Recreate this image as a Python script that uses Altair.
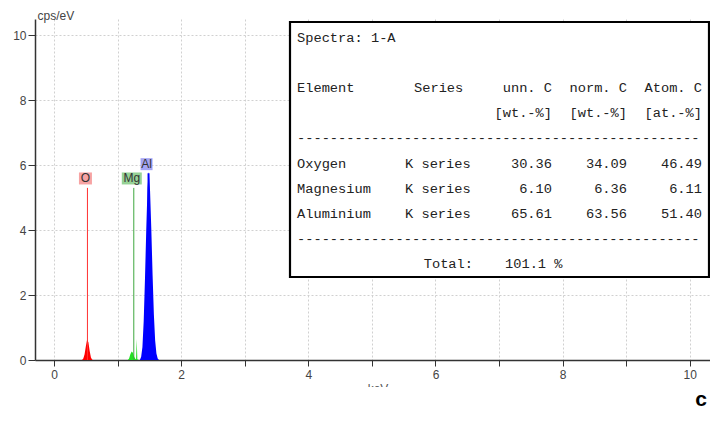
import altair as alt
import pandas as pd
import numpy as np

# ---------------- spectrum data ----------------
o_kev = [0.44, 0.46, 0.48, 0.50, 0.52, 0.54, 0.56, 0.58, 0.60, 0.62]
o_cps = [0.0, 0.05, 0.18, 0.42, 0.63, 0.55, 0.28, 0.08, 0.01, 0.0]

mg_kev = [1.16, 1.18, 1.20, 1.22, 1.24, 1.26, 1.28, 1.29, 1.30, 1.31, 1.33]
mg_cps = [0.0, 0.05, 0.18, 0.26, 0.22, 0.10, 0.03, 0.02, 0.65, 0.02, 0.0]

al_kev = [1.35, 1.37, 1.39, 1.41, 1.43, 1.45, 1.47, 1.49, 1.51, 1.53, 1.55, 1.57, 1.59, 1.61, 1.63, 1.65]
al_cps = [0.0, 0.1, 0.4, 1.2, 2.5, 4.0, 5.3, 5.8, 5.2, 4.0, 2.6, 1.4, 0.6, 0.2, 0.05, 0.0]

elements = ["O", "Mg", "Al"]
line_kev = [0.525, 1.254, 1.486]
line_top = [5.3, 5.3, 5.75]
label_y = [5.59, 5.59, 6.03]

# ---------------- table data ----------------
spectra_name = "1-A"
tab_elements = ["Oxygen", "Magnesium", "Aluminium"]
tab_series = ["K series", "K series", "K series"]
unn_c = ["30.36", "6.10", "65.61"]
norm_c = ["34.09", "6.36", "63.56"]
atom_c = ["46.49", "6.11", "51.40"]
total = "101.1"

# ---------------- styles ----------------
fill_colors = ["#ff0000", "#22e022", "#0000ff"]
rule_colors = ["#ff3030", "#3fa83f", "#0000ff"]
rule_widths = [1, 1, 2]
box_colors = ["#f7a3a3", "#96d296", "#a5a5f5"]
box_half_w = [6.5, 10, 6]

spec = pd.DataFrame({
    "kev": o_kev + mg_kev + al_kev,
    "cps": o_cps + mg_cps + al_cps,
    "el": ["O"] * len(o_kev) + ["Mg"] * len(mg_kev) + ["Al"] * len(al_kev),
})

xs = alt.Scale(domain=[-0.3, 10.318], nice=False, zero=False)
ys = alt.Scale(domain=[0, 10.5], nice=False)

even_expr = "datum.value % 2 == 0 ? format(datum.value, 'd') : ''"

x_axis = alt.Axis(values=list(np.arange(0, 10.01, 0.5)), labelExpr=even_expr, title=None,
                  grid=True, gridDash=[2, 2], gridColor="#d0d0d0", domainColor="#333",
                  domainWidth=1.5, tickColor="#333", tickSize=6, labelColor="#444",
                  labelFontSize=12, labelFont="Liberation Sans", labelPadding=3)
y_axis = alt.Axis(values=list(np.arange(0, 10.01, 0.5)), labelExpr=even_expr, title="cps/eV",
                  titleAngle=0, titleAlign="left", titleBaseline="middle", titleX=2, titleY=-4,
                  titleFont="Liberation Sans", titleFontSize=12, titleFontWeight="normal",
                  titleColor="#444",
                  grid=True, gridDash=[2, 2], gridColor="#d0d0d0", domainColor="#333",
                  domainWidth=1.5, tickColor="#333", tickSize=7, labelColor="#444",
                  labelFontSize=12, labelFont="Liberation Sans", labelPadding=2)

area = alt.Chart(spec).mark_area(opacity=1, interpolate="linear").encode(
    x=alt.X("kev:Q", scale=xs, axis=x_axis),
    y=alt.Y("cps:Q", scale=ys, axis=y_axis),
    color=alt.Color("el:N", scale=alt.Scale(domain=elements, range=fill_colors), legend=None),
)

layers = [area]
for i, el in enumerate(elements):
    d = pd.DataFrame({"kev": [line_kev[i]], "top": [line_top[i]], "ly": [label_y[i]], "el": [el]})
    rule = alt.Chart(d).mark_rule(color=rule_colors[i], strokeWidth=rule_widths[i]).encode(
        x=alt.X("kev:Q", scale=xs), y=alt.Y("top:Q", scale=ys), y2=alt.datum(0),
    )
    box = alt.Chart(d).mark_rect(color=box_colors[i], xOffset=-2 - box_half_w[i],
                                 x2Offset=-2 + box_half_w[i], yOffset=-6, y2Offset=6).encode(
        x=alt.X("kev:Q", scale=xs), x2="kev:Q",
        y=alt.Y("ly:Q", scale=ys), y2="ly:Q",
    )
    txt = alt.Chart(d).mark_text(font="Liberation Sans", fontSize=12, color="#333",
                                 dx=-2, baseline="middle", align="center").encode(
        x=alt.X("kev:Q", scale=xs), y=alt.Y("ly:Q", scale=ys), text="el:N",
    )
    layers += [rule, box, txt]

# x-axis title, partly hidden in the original
ket = alt.Chart(pd.DataFrame({"t": ["keV"]})).mark_text(
    font="Liberation Sans", fontSize=12, color="#555", align="center", baseline="alphabetic"
).encode(x=alt.value(343), y=alt.value(374), text="t:N")
cover = alt.Chart(pd.DataFrame({"t": [0]})).mark_rect(color="white").encode(
    x=alt.value(320), x2=alt.value(370), y=alt.value(368), y2=alt.value(385))
letter = alt.Chart(pd.DataFrame({"t": ["c"]})).mark_text(
    font="Liberation Sans", fontSize=21, fontWeight="bold", color="black",
    align="center", baseline="alphabetic"
).encode(x=alt.value(666), y=alt.value(387), text="t:N")

main = alt.layer(*layers, ket, cover, letter)

# ---------------- table ----------------
rows = []
rows.append((0, f"Spectra: {spectra_name}", "Element"))
rows.append((2, "Element", "Element"))
rows.append((2, "Series", "SeriesHead"))
rows.append((2, "unn. C", "unn"))
rows.append((2, "norm. C", "norm"))
rows.append((2, "Atom. C", "atom"))
rows.append((3, "[wt.-%]", "unn"))
rows.append((3, "[wt.-%]", "norm"))
rows.append((3, "[at.-%]", "atom"))
rows.append((4, "-" * 49, "Element"))
for k in range(len(tab_elements)):
    r = 5 + k
    rows.append((r, tab_elements[k], "Element"))
    rows.append((r, tab_series[k], "Series"))
    rows.append((r, unn_c[k], "unn"))
    rows.append((r, norm_c[k], "norm"))
    rows.append((r, atom_c[k], "atom"))
rows.append((8, "-" * 49, "Element"))
rows.append((9, "Total:", "TotalLab"))
rows.append((9, f"{total} %", "TotalVal"))
tab = pd.DataFrame(rows, columns=["row", "text", "col"])

sh = -8  # table shifted left to fit inside the page
col_pos = {"Element": (270 + sh, "left"), "SeriesHead": (387 + sh, "left"),
           "Series": (378 + sh, "left"), "TotalLab": (446 + sh, "right"),
           "TotalVal": (478 + sh, "left"), "unn": (525 + sh, "right"),
           "norm": (600 + sh, "right"), "atom": (675 + sh, "right")}

ty = alt.Scale(domain=[0, 9], range=[19, 245])
box = alt.Chart(pd.DataFrame({"t": [0]})).mark_rect(
    fill="white", stroke="black", strokeWidth=2.2
).encode(x=alt.value(263 + sh), x2=alt.value(674), y=alt.value(3), y2=alt.value(258))

tlayers = [box]
for c, (px, al) in col_pos.items():
    tlayers.append(
        alt.Chart(tab[tab["col"] == c]).mark_text(
            font="Liberation Mono", fontSize=13.7, color="#222", align=al, baseline="middle"
        ).encode(x=alt.value(px), y=alt.Y("row:Q", scale=ty, axis=None), text="text:N")
    )
table = alt.layer(*tlayers)

chart = alt.layer(main, table).resolve_scale(y="independent").properties(
    width=675, height=341,
    autosize=alt.AutoSizeParams(type="none"),
    padding={"left": 27, "top": 11, "right": 0, "bottom": 51},
).configure_view(stroke=None)

chart.save("out.html", embed_options={"renderer": "svg", "actions": False})
